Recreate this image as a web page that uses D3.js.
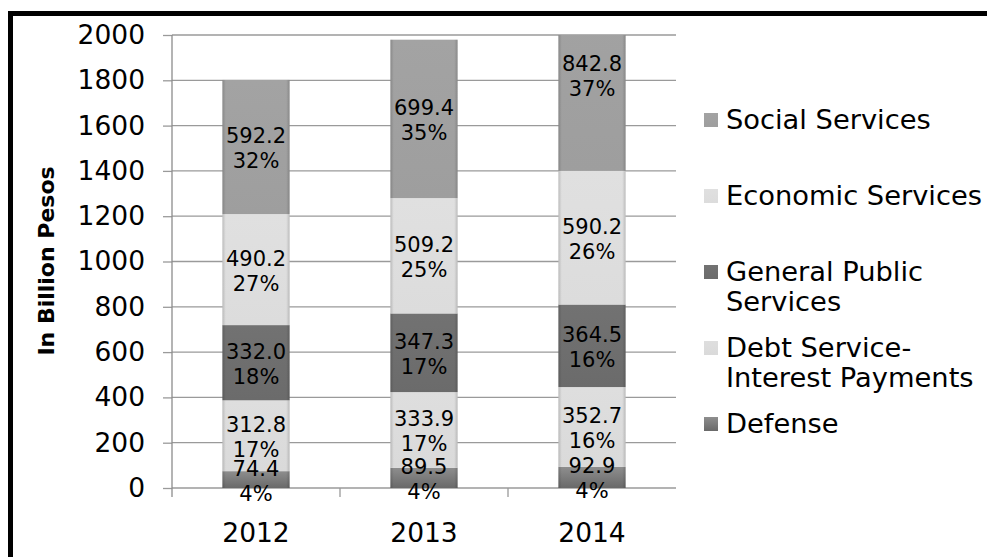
<!DOCTYPE html>
<html>
<head>
<meta charset="utf-8">
<script src="https://cdn.jsdelivr.net/npm/d3@7"></script>
<style>
  html, body { margin: 0; padding: 0; background: #fff; }
  svg { display: block; }
  text { font-family: "DejaVu Sans", Verdana, sans-serif; fill: #000; }
</style>
</head>
<body>
<svg id="chart" width="987" height="557"></svg>
<script>
// Philippine national budget by sector, 2012-2014 (billion pesos)
const years = ["2012", "2013", "2014"];

const defense       = [74.4, 89.5, 92.9];
const debtService   = [312.8, 333.9, 352.7];
const generalPublic = [332.0, 347.3, 364.5];
const economic      = [490.2, 509.2, 590.2];
const social        = [592.2, 699.4, 842.8];

const defensePct       = ["4%", "4%", "4%"];
const debtServicePct   = ["17%", "17%", "16%"];
const generalPublicPct = ["18%", "17%", "16%"];
const economicPct      = ["27%", "25%", "26%"];
const socialPct        = ["32%", "35%", "37%"];

const seriesKeys   = ["defense", "debtService", "generalPublic", "economic", "social"];
const legendLabels = [
  ["Social Services"],
  ["Economic Services"],
  ["General Public", "Services"],
  ["Debt Service-", "Interest Payments"],
  ["Defense"]
];
const legendKeys = ["social", "economic", "generalPublic", "debtService", "defense"];

const yTicks = [0, 200, 400, 600, 800, 1000, 1200, 1400, 1600, 1800, 2000];

// ---- build table for the stack ----
const valuesByKey = { defense, debtService, generalPublic, economic, social };
const pctByKey = {
  defense: defensePct, debtService: debtServicePct, generalPublic: generalPublicPct,
  economic: economicPct, social: socialPct
};
const table = years.map((y, i) => {
  const row = { year: y, idx: i };
  seriesKeys.forEach(k => row[k] = valuesByKey[k][i]);
  return row;
});
const stacked = d3.stack().keys(seriesKeys)(table);

// ---- layout ----
const plot = { left: 172, right: 676, top: 35, bottom: 488 };

const svg = d3.select("#chart");

const x = d3.scaleBand()
  .domain(years)
  .range([plot.left, plot.right])
  .paddingInner(0.6)
  .paddingOuter(0.3);

const xCat = d3.scaleBand().domain(years).range([plot.left, plot.right]).padding(0);

const y = d3.scaleLinear().domain([0, 2000]).range([plot.bottom, plot.top]);

// ---- fills ----
const defs = svg.append("defs");

function vGrad(id, top, bottom) {
  const g = defs.append("linearGradient").attr("id", id)
    .attr("x1", 0).attr("y1", 0).attr("x2", 0).attr("y2", 1);
  g.append("stop").attr("offset", "0%").attr("stop-color", top);
  g.append("stop").attr("offset", "100%").attr("stop-color", bottom);
}
vGrad("g-social", "#a3a3a3", "#9e9e9e");
vGrad("g-economic", "#e0e0e0", "#dcdcdc");
vGrad("g-generalPublic", "#727272", "#6b6b6b");
vGrad("g-debtService", "#dedede", "#dadada");
vGrad("g-defense", "#8e8e8e", "#696969");

// soft shading at the bar sides
const edge = defs.append("linearGradient").attr("id", "g-edge")
  .attr("x1", 0).attr("y1", 0).attr("x2", 1).attr("y2", 0);
[["0%", 0.16], ["5%", 0.0], ["95%", 0.0], ["100%", 0.16]].forEach(([o, a]) =>
  edge.append("stop").attr("offset", o).attr("stop-color", "#000").attr("stop-opacity", a));

defs.append("clipPath").attr("id", "plot-clip")
  .append("rect")
  .attr("x", plot.left - 10).attr("y", plot.top)
  .attr("width", plot.right - plot.left + 20).attr("height", plot.bottom - plot.top);

// ---- outer frame ----
svg.append("rect")
  .attr("x", 10.5).attr("y", 13.5)
  .attr("width", 1100).attr("height", 700)
  .attr("fill", "#fff")
  .attr("stroke", "#000").attr("stroke-width", 5);

// ---- gridlines + y ticks ----
const yAxis = d3.axisLeft(y).tickValues(yTicks).tickSize(9).tickPadding(18).tickFormat(d3.format("d"));
const gY = svg.append("g").attr("transform", `translate(${plot.left},0)`).call(yAxis);
gY.select(".domain").remove();
gY.selectAll(".tick line").attr("stroke", "#9a9a9a").attr("stroke-width", 1.3);
gY.selectAll(".tick text")
  .attr("font-size", "26.5px")
  .attr("font-family", "'DejaVu Sans', Verdana, sans-serif")
  .attr("fill", "#000");

svg.append("g").selectAll("line").data(yTicks).join("line")
  .attr("x1", plot.left).attr("x2", plot.right)
  .attr("y1", d => y(d)).attr("y2", d => y(d))
  .attr("stroke", "#9a9a9a").attr("stroke-width", 1.3);

// vertical axis line
svg.append("line")
  .attr("x1", plot.left).attr("x2", plot.left)
  .attr("y1", plot.top).attr("y2", plot.bottom + 9)
  .attr("stroke", "#8c8c8c").attr("stroke-width", 1.3);

// category separators on the baseline
const catBounds = years.slice(1).map(d => xCat(d));
svg.append("g").selectAll("line").data(catBounds).join("line")
  .attr("x1", d => d).attr("x2", d => d)
  .attr("y1", plot.bottom).attr("y2", plot.bottom + 9)
  .attr("stroke", "#9a9a9a").attr("stroke-width", 1.3);

// ---- bars ----
const barsG = svg.append("g").attr("clip-path", "url(#plot-clip)");
stacked.forEach(layer => {
  const key = layer.key;
  const g = barsG.append("g");
  g.selectAll("rect.seg").data(layer).join("rect")
    .attr("class", "seg")
    .attr("x", d => x(d.data.year))
    .attr("width", x.bandwidth())
    .attr("y", d => y(d[1]))
    .attr("height", d => y(d[0]) - y(d[1]))
    .attr("fill", `url(#g-${key})`);
  g.selectAll("rect.edge").data(layer).join("rect")
    .attr("class", "edge")
    .attr("x", d => x(d.data.year))
    .attr("width", x.bandwidth())
    .attr("y", d => y(d[1]))
    .attr("height", d => y(d[0]) - y(d[1]))
    .attr("fill", "url(#g-edge)");
});

// ---- data labels (value + share), centered on each full segment ----
const labelsG = svg.append("g");
stacked.forEach(layer => {
  const key = layer.key;
  layer.forEach(d => {
    const i = d.data.idx;
    const cx = x(d.data.year) + x.bandwidth() / 2;
    const cy = y((d[0] + d[1]) / 2);
    const t = labelsG.append("text")
      .attr("text-anchor", "middle")
      .attr("font-size", "21px");
    t.append("tspan").attr("x", cx).attr("y", cy - 4)
      .text(valuesByKey[key][i].toFixed(1));
    t.append("tspan").attr("x", cx).attr("y", cy + 21)
      .text(pctByKey[key][i]);
  });
});

// ---- x labels ----
svg.append("g").selectAll("text").data(years).join("text")
  .attr("x", d => xCat(d) + xCat.bandwidth() / 2)
  .attr("y", plot.bottom + 54)
  .attr("text-anchor", "middle")
  .attr("font-size", "26.5px")
  .text(d => d);

// ---- y title ----
svg.append("text")
  .attr("transform", "translate(54,261) rotate(-90)")
  .attr("text-anchor", "middle")
  .attr("font-family", "Lato, 'Open Sans', sans-serif")
  .attr("font-weight", "bold")
  .attr("font-size", "22px")
  .text("In Billion Pesos");

// ---- legend ----
const legend = svg.append("g");
legendKeys.forEach((k, i) => {
  const cy = 120 + i * 76;
  legend.append("rect")
    .attr("x", 704).attr("y", cy - 7)
    .attr("width", 14).attr("height", 14)
    .attr("fill", `url(#g-${k})`);
  const t = legend.append("text")
    .attr("font-size", "27.3px");
  legendLabels[i].forEach((line, j) => {
    t.append("tspan")
      .attr("x", 726)
      .attr("y", cy + 9 + j * 30)
      .text(line);
  });
});
</script>
</body>
</html>
